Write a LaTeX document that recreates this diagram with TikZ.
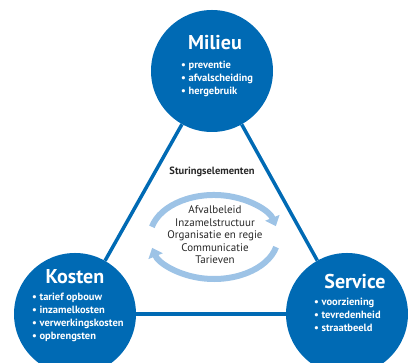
\documentclass[tikz,border=0pt]{standalone}
\usepackage{fontspec}
\setmainfont{PT Sans}
\usetikzlibrary{arrows.meta}
\definecolor{darkblue}{RGB}{0,106,180}
\definecolor{lightblue}{RGB}{157,195,230}
\definecolor{textgray}{RGB}{40,40,40}

\begin{document}
\begin{tikzpicture}[x=1pt,y=1pt,
  blob/.style={circle,fill=darkblue,minimum size=122pt,inner sep=0pt},
  edge/.style={darkblue,line width=3.5pt},
  title/.style={text=white,font=\fontsize{20}{24}\selectfont\bfseries},
  items/.style={text=white,align=left,anchor=north west,inner sep=0pt,font=\fontsize{10.5}{13}\selectfont\bfseries},
  cycle/.style={lightblue,line width=6pt,-{Triangle[width=15pt,length=9pt]}}]
\useasboundingbox (0,0) rectangle (408,363);

% the three circles
\node[blob] (milieu) at (212,292) {};
\node[blob] (kosten) at (75,49) {};
\node[blob] (service) at (347,49) {};

\draw[edge] (milieu) -- (kosten);
\draw[edge] (milieu) -- (service);
\draw[edge] (kosten) -- (service);

\node[title] (milieutitle) at (215,320) {Milieu};
\node[items] (milieulist) at (181,302) {\textbullet\ preventie\\ \textbullet\ afvalscheiding\\ \textbullet\ hergebruik};

\node[title] (kostentitle) at (75,86) {Kosten};
\node[items] (kostenlist) at (32,70) {\textbullet\ tarief opbouw\\ \textbullet\ inzamelkosten\\ \textbullet\ verwerkingskosten\\ \textbullet\ opbrengsten};

\node[title] (servicetitle) at (355,81) {Service};
\node[items] (servicelist) at (314,65) {\textbullet\ voorziening\\ \textbullet\ tevredenheid\\ \textbullet\ straatbeeld};

% sturing in the middle
\node[text=textgray,font=\fontsize{10.5}{12}\selectfont\bfseries] (sturing) at (212,191) {Sturingselementen};
\node[text=textgray,align=center,font=\fontsize{11}{12.5}\selectfont] (elementen) at (215,128)
  {Afvalbeleid\\ Inzamelstructuur\\ Organisatie en regie\\ Communicatie\\ Tarieven};

\draw[cycle] ([shift={(166:64 and 42)}]214,126) arc[start angle=166,end angle=15,x radius=64,y radius=42];
\draw[cycle] ([shift={(-14:64 and 42)}]214,126) arc[start angle=-14,end angle=-165,x radius=64,y radius=42];
\end{tikzpicture}
\end{document}
